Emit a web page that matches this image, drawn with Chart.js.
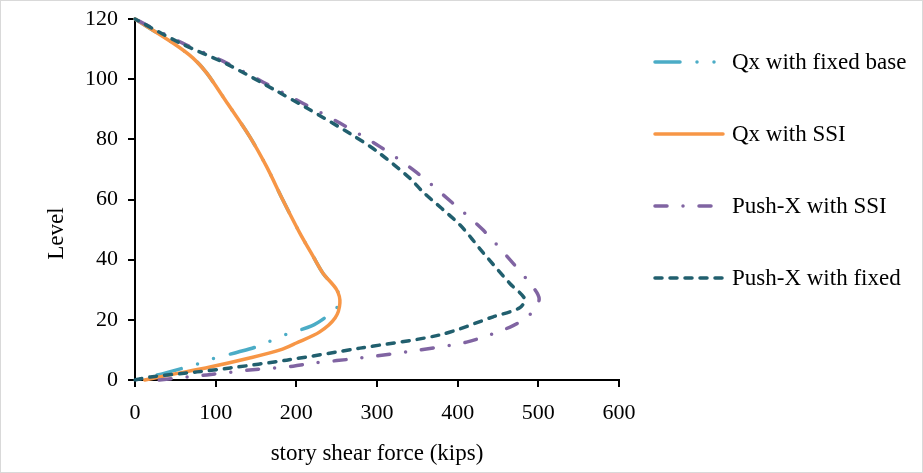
<!DOCTYPE html>
<html>
<head>
<meta charset="utf-8">
<script src="https://cdn.jsdelivr.net/npm/chart.js@4/dist/chart.umd.min.js"></script>
<style>
  html, body { margin: 0; padding: 0; background: #fff; }
  #wrap { width: 923px; height: 473px; }
</style>
</head>
<body>
<div id="wrap"><canvas id="shearChart" width="923" height="473"></canvas></div>
<script>
// story shear force (kips) vs level
const xTicks = [0, 100, 200, 300, 400, 500, 600];
const yTicks = [0, 20, 40, 60, 80, 100, 120];

const fixedQxForce = [0, 47, 72, 89, 112, 142, 163, 183, 204, 221, 233, 250, 255, 250, 235, 219, 188, 150, 128, 95, 77, 37, 0];
const fixedQxLevel = [120, 112, 107, 102, 93, 81, 71, 60, 49, 41, 35.5, 30, 27, 24, 20.6, 18, 15.2, 11, 9.3, 7, 5.3, 2.3, 0];

const ssiQxForce = [0, 47, 72, 89, 112, 142, 163, 183, 204, 221, 233, 250, 254, 248, 229, 200, 180, 142, 93, 43, 12];
const ssiQxLevel = [120, 112, 107, 102, 93, 81, 71, 60, 49, 41, 35.5, 30, 25.6, 20.6, 16, 12.3, 10, 7.3, 4.3, 1.7, 0];

const pushSsiForce = [30, 89, 142, 196, 221, 279, 353, 411, 465, 489, 501, 487, 468, 431, 393, 349, 304, 254, 208, 159, 109, 59, 0];
const pushSsiLevel = [0, 1.7, 3.3, 4.6, 5.6, 7.3, 10, 12.6, 17.6, 21.6, 27, 33, 39, 50, 59, 69, 77.5, 85.4, 92, 99, 106, 112, 120];

const pushFixedForce = [0, 19, 77, 118, 188, 279, 378, 444, 477, 483, 465, 431, 403, 357, 341, 300, 266, 213, 176, 114, 56, 0];
const pushFixedLevel = [0, 1, 2.7, 4, 6.6, 10.6, 15, 21, 24, 27, 32, 42.5, 51.5, 62.5, 67, 76, 82, 90.4, 96, 105, 112, 120];

const seriesNames = ["Qx with fixed base", "Qx with SSI", "Push-X with SSI", "Push-X with fixed"];
const yTitle = "Level";
const xTitle = "story shear force (kips)";

function toPoints(xs, ys) {
    return xs.map((x, i) => ({ x: x, y: ys[i] }));
}

const serif = "'Liberation Serif', 'Times New Roman', serif";

// frame + white background
const framePlugin = {
    id: "frame",
    beforeDraw(chart) {
        let ctx = chart.ctx;
        ctx.save();
        ctx.fillStyle = "#fff";
        ctx.fillRect(0, 0, chart.width, chart.height);
        ctx.strokeStyle = "#d9d9d9";
        ctx.lineWidth = 1;
        ctx.strokeRect(0.5, 0.5, chart.width - 1, chart.height - 1);
        ctx.restore();
    }
};

// legend drawn by hand so the dash patterns show, plus the y title (sits low in the original)
const dashLegend = {
    id: "dashLegend",
    afterDraw(chart) {
        let ctx = chart.ctx;
        let area = chart.chartArea;
        let x0 = area.right + 36;
        let x1 = x0 + 68;
        ctx.save();
        chart.data.datasets.forEach((ds, i) => {
            let y = area.top + 43 + i * 72;
            ctx.beginPath();
            ctx.strokeStyle = ds.borderColor;
            ctx.lineWidth = ds.borderWidth;
            ctx.lineCap = "round";
            ctx.setLineDash(ds.borderDash || []);
            ctx.moveTo(x0, y);
            ctx.lineTo(x1, y);
            ctx.stroke();
            ctx.setLineDash([]);
            ctx.fillStyle = "#000";
            ctx.font = "23px " + serif;
            ctx.textBaseline = "middle";
            ctx.fillText(ds.label, x1 + 9, y + 1);
        });

        ctx.translate(57, (area.top + area.bottom) / 2 + 34);
        ctx.rotate(-Math.PI / 2);
        ctx.font = "23px " + serif;
        ctx.textAlign = "center";
        ctx.textBaseline = "middle";
        ctx.fillText(yTitle, 0, 0);
        ctx.restore();
    }
};

function makeSet(label, xs, ys, color, dash, order) {
    return {
        label: label,
        data: toPoints(xs, ys),
        borderColor: color,
        backgroundColor: color,
        borderWidth: 3.5,
        borderDash: dash,
        borderCapStyle: "round",
        showLine: true,
        pointRadius: 0,
        tension: 0.3,
        clip: false,
        order: order
    };
}

let ctx = document.getElementById("shearChart").getContext("2d");
new Chart(ctx, {
    type: "scatter",
    data: {
        datasets: [
            makeSet(seriesNames[0], fixedQxForce, fixedQxLevel, "#4BACC6", [25, 17, 0, 17, 0, 17], 4),
            makeSet(seriesNames[1], ssiQxForce, ssiQxLevel, "#F79646", [], 3),
            makeSet(seriesNames[2], pushSsiForce, pushSsiLevel, "#8064A2", [12, 16, 0, 16], 2),
            makeSet(seriesNames[3], pushFixedForce, pushFixedLevel, "#215F6E", [7, 8], 1)
        ]
    },
    options: {
        responsive: false,
        animation: false,
        layout: { padding: { top: 19, right: 304, left: 0, bottom: 0 } },
        plugins: {
            legend: { display: false },
            tooltip: { enabled: false }
        },
        scales: {
            x: {
                type: "linear",
                min: 0,
                max: 600,
                afterBuildTicks: axis => { axis.ticks = xTicks.map(v => ({ value: v })); },
                afterFit: axis => { axis.height = 93; axis.paddingLeft = 0; axis.paddingRight = 0; },
                grid: { display: true, drawOnChartArea: false, drawTicks: true, tickLength: 7, color: "#000", lineWidth: 2 },
                border: { display: true, color: "#000", width: 2 },
                ticks: { color: "#000", font: { family: serif, size: 22 }, padding: 13, maxRotation: 0 },
                title: { display: true, text: xTitle, color: "#000", font: { family: serif, size: 23 }, padding: { top: 8, bottom: 5 } }
            },
            y: {
                type: "linear",
                min: 0,
                max: 120,
                afterBuildTicks: axis => { axis.ticks = yTicks.map(v => ({ value: v })); },
                afterFit: axis => { axis.width = 135; axis.paddingTop = 0; axis.paddingBottom = 0; },
                grid: { display: true, drawOnChartArea: false, drawTicks: true, tickLength: 7, color: "#000", lineWidth: 2 },
                border: { display: true, color: "#000", width: 2 },
                ticks: { color: "#000", font: { family: serif, size: 22 }, padding: 10 },
                title: { display: false }
            }
        }
    },
    plugins: [framePlugin, dashLegend]
});
</script>
</body>
</html>
